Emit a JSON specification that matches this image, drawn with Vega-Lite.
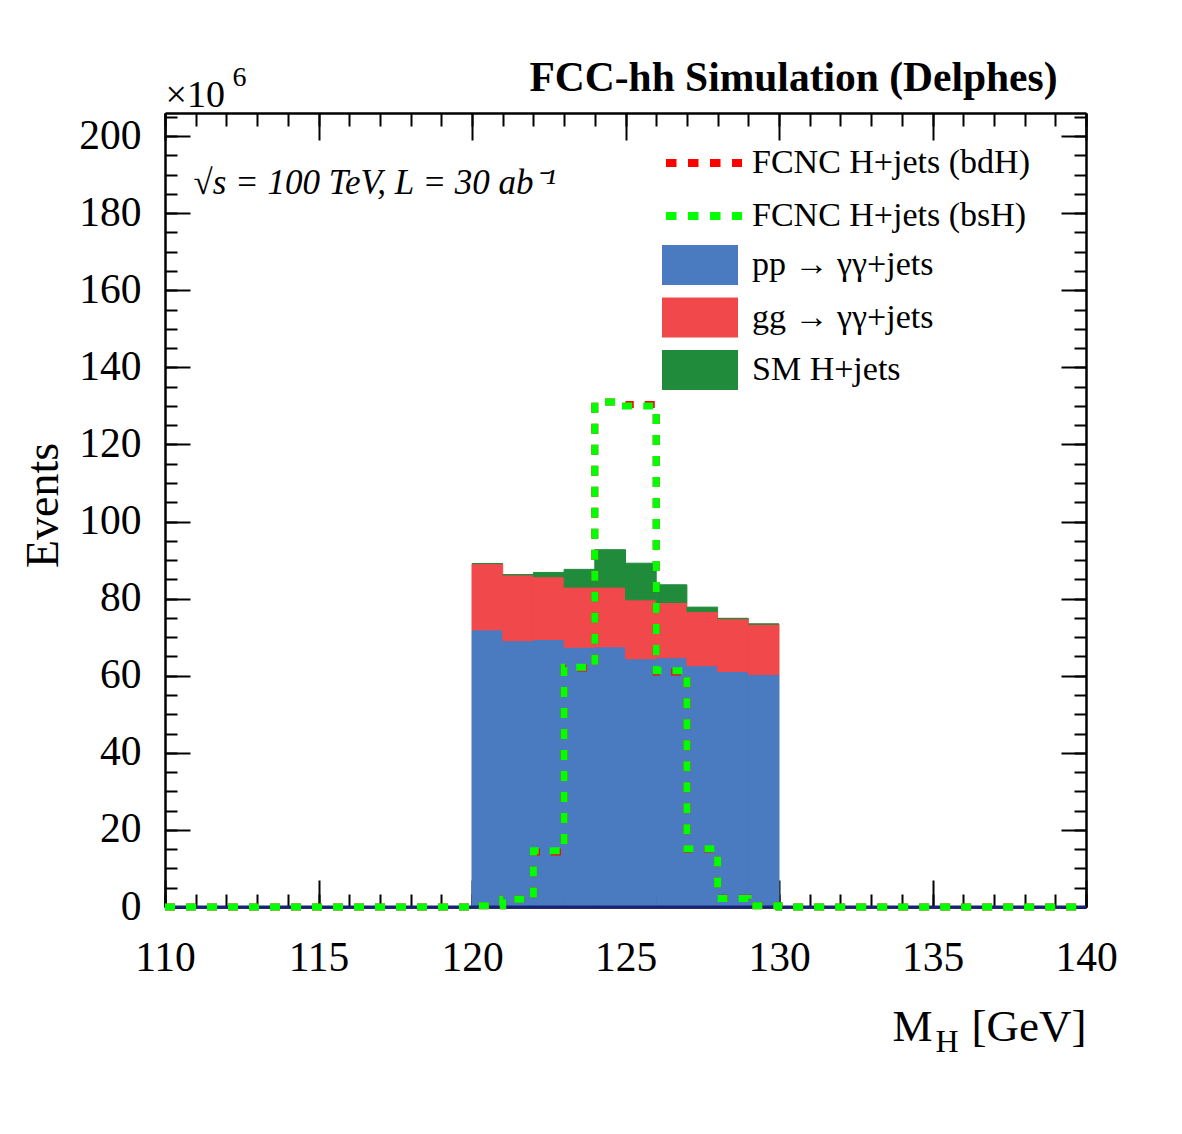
{
  "$schema": "https://vega.github.io/schema/vega-lite/v6.json",
  "width": 921,
  "height": 794,
  "autosize": {"type": "none"},
  "padding": {"left": 165, "top": 113, "right": 96, "bottom": 227},
  "background": "white",
  "config": {
    "view": {"stroke": null},
    "font": "Liberation Serif",
    "axis": {
      "zindex": 1,
      "grid": false,
      "domainColor": "black",
      "domainWidth": 2.5,
      "tickColor": "black",
      "tickWidth": 2,
      "labelFont": "Liberation Serif",
      "titleFont": "Liberation Serif",
      "labelColor": "black",
      "titleColor": "black",
      "titleFontWeight": "normal",
      "labelFlush": false,
      "labelOverlap": false,
      "labelBound": false
    },
    "legend": {
      "labelFont": "Liberation Serif",
      "labelColor": "black",
      "labelFontSize": 34,
      "labelLimit": 500
    }
  },
  "datasets": {
    "bars": [
      {"lo": 120, "hi": 121, "proc": "pp  →  γγ+jets", "order": 1, "v": 71.9},
      {"lo": 121, "hi": 122, "proc": "pp  →  γγ+jets", "order": 1, "v": 69.1},
      {"lo": 122, "hi": 123, "proc": "pp  →  γγ+jets", "order": 1, "v": 69.4},
      {"lo": 123, "hi": 124, "proc": "pp  →  γγ+jets", "order": 1, "v": 67.4},
      {"lo": 124, "hi": 125, "proc": "pp  →  γγ+jets", "order": 1, "v": 67.5},
      {"lo": 125, "hi": 126, "proc": "pp  →  γγ+jets", "order": 1, "v": 64.4},
      {"lo": 126, "hi": 127, "proc": "pp  →  γγ+jets", "order": 1, "v": 64.7},
      {"lo": 127, "hi": 128, "proc": "pp  →  γγ+jets", "order": 1, "v": 62.6},
      {"lo": 128, "hi": 129, "proc": "pp  →  γγ+jets", "order": 1, "v": 61.1},
      {"lo": 129, "hi": 130, "proc": "pp  →  γγ+jets", "order": 1, "v": 60.3},
      {"lo": 120, "hi": 121, "proc": "gg  →  γγ+jets", "order": 2, "v": 17.2},
      {"lo": 121, "hi": 122, "proc": "gg  →  γγ+jets", "order": 2, "v": 17.1},
      {"lo": 122, "hi": 123, "proc": "gg  →  γγ+jets", "order": 2, "v": 16.3},
      {"lo": 123, "hi": 124, "proc": "gg  →  γγ+jets", "order": 2, "v": 15.6},
      {"lo": 124, "hi": 125, "proc": "gg  →  γγ+jets", "order": 2, "v": 15.5},
      {"lo": 125, "hi": 126, "proc": "gg  →  γγ+jets", "order": 2, "v": 15.3},
      {"lo": 126, "hi": 127, "proc": "gg  →  γγ+jets", "order": 2, "v": 14.3},
      {"lo": 127, "hi": 128, "proc": "gg  →  γγ+jets", "order": 2, "v": 14.1},
      {"lo": 128, "hi": 129, "proc": "gg  →  γγ+jets", "order": 2, "v": 13.7},
      {"lo": 129, "hi": 130, "proc": "gg  →  γγ+jets", "order": 2, "v": 13.1},
      {"lo": 120, "hi": 121, "proc": "SM H+jets", "order": 3, "v": 0.0},
      {"lo": 121, "hi": 122, "proc": "SM H+jets", "order": 3, "v": 0.0},
      {"lo": 122, "hi": 123, "proc": "SM H+jets", "order": 3, "v": 1.1},
      {"lo": 123, "hi": 124, "proc": "SM H+jets", "order": 3, "v": 4.6},
      {"lo": 124, "hi": 125, "proc": "SM H+jets", "order": 3, "v": 9.7},
      {"lo": 125, "hi": 126, "proc": "SM H+jets", "order": 3, "v": 9.5},
      {"lo": 126, "hi": 127, "proc": "SM H+jets", "order": 3, "v": 4.6},
      {"lo": 127, "hi": 128, "proc": "SM H+jets", "order": 3, "v": 1.1},
      {"lo": 128, "hi": 129, "proc": "SM H+jets", "order": 3, "v": 0.1},
      {"lo": 129, "hi": 130, "proc": "SM H+jets", "order": 3, "v": 0.0}
    ],
    "bdh": [
      {"m": 110, "v": 0, "series": "FCNC H+jets (bdH)"},
      {"m": 111, "v": 0, "series": "FCNC H+jets (bdH)"},
      {"m": 112, "v": 0, "series": "FCNC H+jets (bdH)"},
      {"m": 113, "v": 0, "series": "FCNC H+jets (bdH)"},
      {"m": 114, "v": 0, "series": "FCNC H+jets (bdH)"},
      {"m": 115, "v": 0, "series": "FCNC H+jets (bdH)"},
      {"m": 116, "v": 0, "series": "FCNC H+jets (bdH)"},
      {"m": 117, "v": 0, "series": "FCNC H+jets (bdH)"},
      {"m": 118, "v": 0, "series": "FCNC H+jets (bdH)"},
      {"m": 119, "v": 0, "series": "FCNC H+jets (bdH)"},
      {"m": 120, "v": 0.3, "series": "FCNC H+jets (bdH)"},
      {"m": 121, "v": 2.0, "series": "FCNC H+jets (bdH)"},
      {"m": 122, "v": 14.3, "series": "FCNC H+jets (bdH)"},
      {"m": 123, "v": 62.0, "series": "FCNC H+jets (bdH)"},
      {"m": 124, "v": 131.0, "series": "FCNC H+jets (bdH)"},
      {"m": 125, "v": 130.4, "series": "FCNC H+jets (bdH)"},
      {"m": 126, "v": 61.0, "series": "FCNC H+jets (bdH)"},
      {"m": 127, "v": 15.0, "series": "FCNC H+jets (bdH)"},
      {"m": 128, "v": 2.3, "series": "FCNC H+jets (bdH)"},
      {"m": 129, "v": 0.3, "series": "FCNC H+jets (bdH)"},
      {"m": 130, "v": 0, "series": "FCNC H+jets (bdH)"},
      {"m": 131, "v": 0, "series": "FCNC H+jets (bdH)"},
      {"m": 132, "v": 0, "series": "FCNC H+jets (bdH)"},
      {"m": 133, "v": 0, "series": "FCNC H+jets (bdH)"},
      {"m": 134, "v": 0, "series": "FCNC H+jets (bdH)"},
      {"m": 135, "v": 0, "series": "FCNC H+jets (bdH)"},
      {"m": 136, "v": 0, "series": "FCNC H+jets (bdH)"},
      {"m": 137, "v": 0, "series": "FCNC H+jets (bdH)"},
      {"m": 138, "v": 0, "series": "FCNC H+jets (bdH)"},
      {"m": 139, "v": 0, "series": "FCNC H+jets (bdH)"},
      {"m": 140, "v": 0, "series": "FCNC H+jets (bdH)"}
    ],
    "bsh": [
      {"m": 110, "v": 0, "series": "FCNC H+jets (bsH)"},
      {"m": 111, "v": 0, "series": "FCNC H+jets (bsH)"},
      {"m": 112, "v": 0, "series": "FCNC H+jets (bsH)"},
      {"m": 113, "v": 0, "series": "FCNC H+jets (bsH)"},
      {"m": 114, "v": 0, "series": "FCNC H+jets (bsH)"},
      {"m": 115, "v": 0, "series": "FCNC H+jets (bsH)"},
      {"m": 116, "v": 0, "series": "FCNC H+jets (bsH)"},
      {"m": 117, "v": 0, "series": "FCNC H+jets (bsH)"},
      {"m": 118, "v": 0, "series": "FCNC H+jets (bsH)"},
      {"m": 119, "v": 0, "series": "FCNC H+jets (bsH)"},
      {"m": 120, "v": 0.3, "series": "FCNC H+jets (bsH)"},
      {"m": 121, "v": 2.0, "series": "FCNC H+jets (bsH)"},
      {"m": 122, "v": 14.6, "series": "FCNC H+jets (bsH)"},
      {"m": 123, "v": 62.2, "series": "FCNC H+jets (bsH)"},
      {"m": 124, "v": 131.0, "series": "FCNC H+jets (bsH)"},
      {"m": 125, "v": 130.0, "series": "FCNC H+jets (bsH)"},
      {"m": 126, "v": 61.3, "series": "FCNC H+jets (bsH)"},
      {"m": 127, "v": 15.1, "series": "FCNC H+jets (bsH)"},
      {"m": 128, "v": 2.2, "series": "FCNC H+jets (bsH)"},
      {"m": 129, "v": 0.3, "series": "FCNC H+jets (bsH)"},
      {"m": 130, "v": 0, "series": "FCNC H+jets (bsH)"},
      {"m": 131, "v": 0, "series": "FCNC H+jets (bsH)"},
      {"m": 132, "v": 0, "series": "FCNC H+jets (bsH)"},
      {"m": 133, "v": 0, "series": "FCNC H+jets (bsH)"},
      {"m": 134, "v": 0, "series": "FCNC H+jets (bsH)"},
      {"m": 135, "v": 0, "series": "FCNC H+jets (bsH)"},
      {"m": 136, "v": 0, "series": "FCNC H+jets (bsH)"},
      {"m": 137, "v": 0, "series": "FCNC H+jets (bsH)"},
      {"m": 138, "v": 0, "series": "FCNC H+jets (bsH)"},
      {"m": 139, "v": 0, "series": "FCNC H+jets (bsH)"},
      {"m": 140, "v": 0, "series": "FCNC H+jets (bsH)"}
    ],
    "baseline": [
      {"lo": 110, "hi": 140, "v": 0}
    ]
  },
  "layer": [
    {
      "data": {"name": "bars"},
      "transform": [
        {"stack": "v", "groupby": ["lo"], "sort": [{"field": "order"}], "as": ["y0", "y1"]}
      ],
      "mark": {
        "type": "rect",
        "strokeWidth": 1,
        "stroke": {"expr": "datum.order == 1 ? '#4a7abf' : datum.order == 2 ? '#f0484b' : '#218b3c'"}
      },
      "encoding": {
        "x": {
          "field": "lo", "type": "quantitative",
          "scale": {"domain": [110, 140], "nice": false, "zero": false},
          "axis": {
            "orient": "bottom", "values": [110, 115, 120, 125, 130, 135, 140], "format": "d",
            "tickSize": -27, "labelFontSize": 41.5, "labelPadding": 57,
            "title": "M", "titleFontSize": 45, "titleX": 727, "titleY": 133,
            "titleAlign": "left", "titleBaseline": "alphabetic", "titleAngle": 0
          }
        },
        "x2": {"field": "hi"},
        "y": {
          "field": "y0", "type": "quantitative",
          "scale": {"domain": [0, 206], "nice": false},
          "axis": {
            "orient": "left", "values": [0, 20, 40, 60, 80, 100, 120, 140, 160, 180, 200], "format": "d",
            "tickSize": -25, "labelFontSize": 41.5, "labelPadding": 49,
            "title": "Events", "titleFontSize": 46, "titleX": -108, "titleY": 392,
            "titleAngle": -90, "titleAlign": "center", "titleBaseline": "alphabetic"
          }
        },
        "y2": {"field": "y1"},
        "fill": {
          "field": "proc", "type": "nominal",
          "scale": {"domain": ["pp  →  γγ+jets", "gg  →  γγ+jets", "SM H+jets"], "range": ["#4a7abf", "#f0484b", "#218b3c"]},
          "legend": {
            "orient": "none", "legendX": 515, "legendY": 132, "title": null,
            "symbolType": "M-1.9,-1H1.9V1H-1.9Z", "symbolSize": 1600, "symbolStrokeWidth": 0,
            "labelFontSize": 34, "labelOffset": 32, "rowPadding": 12.5, "labelLimit": 500
          }
        }
      }
    },
    {
      "data": {"name": "baseline"},
      "mark": {"type": "rule", "color": "#17237a", "strokeWidth": 3},
      "encoding": {
        "x": {
          "field": "lo", "type": "quantitative",
          "axis": {
            "orient": "top", "values": [110, 115, 120, 125, 130, 135, 140], "labels": false,
            "tickSize": -27,
            "title": "FCC-hh Simulation (Delphes)", "titleFontSize": 41.5, "titleFontWeight": "bold",
            "titleX": 892, "titleY": -23, "titleAlign": "right", "titleBaseline": "alphabetic"
          }
        },
        "x2": {"field": "hi"},
        "y": {
          "field": "v", "type": "quantitative",
          "axis": {
            "orient": "right", "values": [0, 20, 40, 60, 80, 100, 120, 140, 160, 180, 200], "labels": false,
            "tickSize": -25,
            "title": "H", "titleFontSize": 32, "titleX": -151, "titleY": 938,
            "titleAngle": 0, "titleAlign": "left", "titleBaseline": "alphabetic"
          }
        }
      }
    },
    {
      "data": {"name": "bdh"},
      "mark": {"type": "line", "interpolate": "step-after", "strokeWidth": 7, "strokeDash": [10, 11], "clip": false},
      "encoding": {
        "x": {
          "field": "m", "type": "quantitative",
          "axis": {
            "orient": "bottom", "values": [110, 111, 112, 113, 114, 115, 116, 117, 118, 119, 120, 121, 122, 123, 124, 125, 126, 127, 128, 129, 130, 131, 132, 133, 134, 135, 136, 137, 138, 139, 140],
            "labels": false, "tickSize": -13, "domain": false,
            "title": "[GeV]", "titleFontSize": 45, "titleX": 921, "titleY": 133,
            "titleAlign": "right", "titleBaseline": "alphabetic"
          }
        },
        "y": {
          "field": "v", "type": "quantitative",
          "axis": {
            "orient": "left", "values": [0, 5, 10, 15, 20, 25, 30, 35, 40, 45, 50, 55, 60, 65, 70, 75, 80, 85, 90, 95, 100, 105, 110, 115, 120, 125, 130, 135, 140, 145, 150, 155, 160, 165, 170, 175, 180, 185, 190, 195, 200, 205],
            "labels": false, "tickSize": -12, "domain": false,
            "title": "√s = 100 TeV, L = 30 ab⁻¹", "titleFontSize": 35, "titleFontStyle": "italic",
            "titleX": 28, "titleY": 80, "titleAngle": 0, "titleAlign": "left", "titleBaseline": "alphabetic"
          }
        },
        "stroke": {
          "field": "series", "type": "nominal",
          "scale": {"domain": ["FCNC H+jets (bdH)", "FCNC H+jets (bsH)"], "range": ["#ff0000", "#00ff00"]},
          "legend": {
            "orient": "none", "legendX": 515, "legendY": 26, "title": null,
            "symbolType": "M-1.9,0H1.9", "symbolSize": 1600, "symbolStrokeWidth": 8, "symbolDash": [10.5, 11.5],
            "labelFontSize": 34, "labelOffset": 24, "rowPadding": 12, "labelLimit": 500
          }
        }
      }
    },
    {
      "data": {"name": "bsh"},
      "mark": {"type": "line", "interpolate": "step-after", "strokeWidth": 7, "strokeDash": [10, 11], "clip": false},
      "encoding": {
        "x": {
          "field": "m", "type": "quantitative",
          "axis": {
            "orient": "top", "values": [110, 111, 112, 113, 114, 115, 116, 117, 118, 119, 120, 121, 122, 123, 124, 125, 126, 127, 128, 129, 130, 131, 132, 133, 134, 135, 136, 137, 138, 139, 140],
            "labels": false, "tickSize": -13, "domain": false,
            "title": "×10", "titleFontSize": 38, "titleX": 0, "titleY": -7,
            "titleAlign": "left", "titleBaseline": "alphabetic"
          }
        },
        "y": {
          "field": "v", "type": "quantitative",
          "axis": {
            "orient": "right", "values": [0, 5, 10, 15, 20, 25, 30, 35, 40, 45, 50, 55, 60, 65, 70, 75, 80, 85, 90, 95, 100, 105, 110, 115, 120, 125, 130, 135, 140, 145, 150, 155, 160, 165, 170, 175, 180, 185, 190, 195, 200, 205],
            "labels": false, "tickSize": -12, "domain": false,
            "title": "6", "titleFontSize": 28, "titleX": -854, "titleY": -28,
            "titleAngle": 0, "titleAlign": "left", "titleBaseline": "alphabetic"
          }
        },
        "stroke": {
          "field": "series", "type": "nominal",
          "scale": {"domain": ["FCNC H+jets (bdH)", "FCNC H+jets (bsH)"], "range": ["#ff0000", "#00ff00"]},
          "legend": {
            "orient": "none", "legendX": 515, "legendY": 26, "title": null,
            "symbolType": "M-1.9,0H1.9", "symbolSize": 1600, "symbolStrokeWidth": 8, "symbolDash": [10.5, 11.5],
            "labelFontSize": 34, "labelOffset": 24, "rowPadding": 12, "labelLimit": 500
          }
        }
      }
    }
  ],
  "resolve": {
    "axis": {"x": "independent", "y": "independent"},
    "scale": {"x": "shared", "y": "shared"}
  }
}
